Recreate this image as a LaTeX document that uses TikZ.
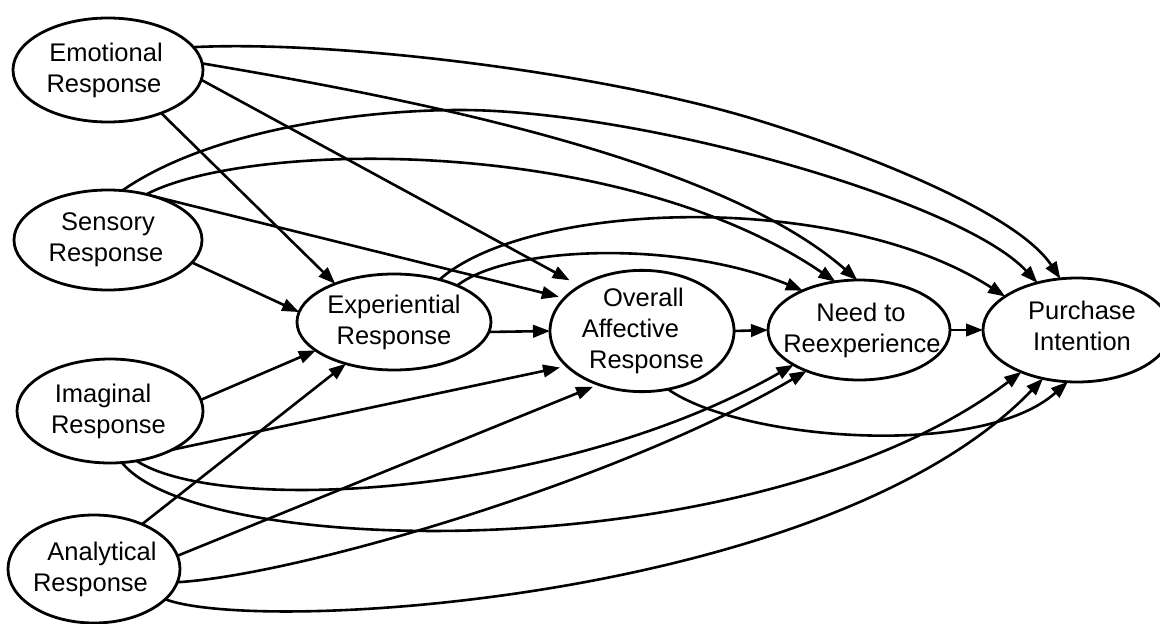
\documentclass[tikz,border=0pt]{standalone}
\usepackage{fontspec}
\setmainfont{Liberation Sans}
\usetikzlibrary{shapes.geometric,arrows.meta}
\newcommand\zline[2][0pt]{\makebox[0pt]{\hspace*{#1}#2}}
\begin{document}
\begin{tikzpicture}[x=1pt,y=-1pt,
  blob/.style={ellipse, draw, line width=2.8pt, inner sep=0pt, outer sep=0pt,
    align=center, font=\fontsize{25.5}{31}\selectfont},
  link/.style={line width=2.6pt, -{Triangle[length=17pt,width=12.5pt]}},
]
\fill[white] (0,0) rectangle (1160,624);
\useasboundingbox (0,0) rectangle (1160,624);

% nodes
\node[blob, minimum width=190pt, minimum height=104pt] (E) at (108,70)
  {\zline[-4pt]{Emotional}\\\zline[-8pt]{Response}};
\node[blob, minimum width=188pt, minimum height=100pt] (S) at (108,240)
  {\zline{Sensory}\\\zline[-4pt]{Response}};
\node[blob, minimum width=186pt, minimum height=104pt] (I) at (110,411)
  {\zline[-14pt]{Imaginal}\\\zline[-3pt]{Response}};
\node[blob, minimum width=172pt, minimum height=108pt] (A) at (94,569)
  {\zline[16pt]{Analytical}\\\zline[-7pt]{Response}};
\node[blob, minimum width=194pt, minimum height=96pt] (X) at (394,322)
  {\zline{Experiential}\\\zline{Response}};
\node[blob, minimum width=184pt, minimum height=102pt] (O) at (642,331)
  {\zline[3pt]{Overall}\\\zline[-23pt]{Affective}\\\zline[9pt]{Response}};
\node[blob, minimum width=182pt, minimum height=100pt] (N) at (859,330)
  {\zline[4pt]{Need to}\\\zline[6pt]{Reexperience}};
\node[blob, minimum width=188pt, minimum height=104pt] (P) at (1077,330)
  {\raisebox{8pt}{\zline[10pt]{Purchase}}\\\raisebox{8pt}{\zline[10pt]{Intention}}};

% from Emotional
\draw[link] (E.-39) -- (X.147.5);
\draw[link, shorten >=12pt] (E.-6) -- (O.144);
\draw[link] (E.4.9) .. controls (420,100) and (720,160) .. (N.92);
\draw[link] (E.15) .. controls (343,40) and (607,74) .. (757,120)
  .. controls (877,157) and (1018,215) .. (P.108);

% from Sensory
\draw[link] (S.-15.6) -- (X.174);
\draw[link, shorten >=6pt] (S.44) -- (O.157);
\draw[link] (S.50) .. controls (250,140) and (620,135) .. (N.116);
\draw[link] (S.74.7) .. controls (210,130) and (360,110) .. (460,110)
  .. controls (640,110) and (960,200) .. (P.130);

% from Imaginal
\draw[link] (I.7) -- (X.200);
\draw[link, shorten >=7pt] (I.-32.6) -- (O.205.7);
\draw[link] (I.-62) .. controls (220,515) and (560,498) .. (N.208);
\draw[link] (I.-77) .. controls (200,560) and (760,570) .. (P.217);

% from Analytical
\draw[link] (A.43) -- (X.221);
\draw[link, shorten >=6pt] (A.9) -- (O.231);
\draw[link] (A.-9) .. controls (300,575) and (620,480) .. (N.218);
\draw[link] (A.-23.5) .. controls (260,635) and (830,600) .. (P.235);

% from Experiential
\draw[link] (X.-6) -- (O.west);
\draw[link] (X.30) .. controls (510,245) and (680,240) .. (N.145);
\draw[link] (X.43) .. controls (530,200) and (840,190) .. (P.155);

% from Overall Affective
\draw[link] (O.east) -- (N.west);
\draw[link] (O.-66) .. controls (740,440) and (980,460) .. (P.260);

% from Need to Reexperience
\draw[link] (N.east) -- (P.west);
\end{tikzpicture}
\end{document}
